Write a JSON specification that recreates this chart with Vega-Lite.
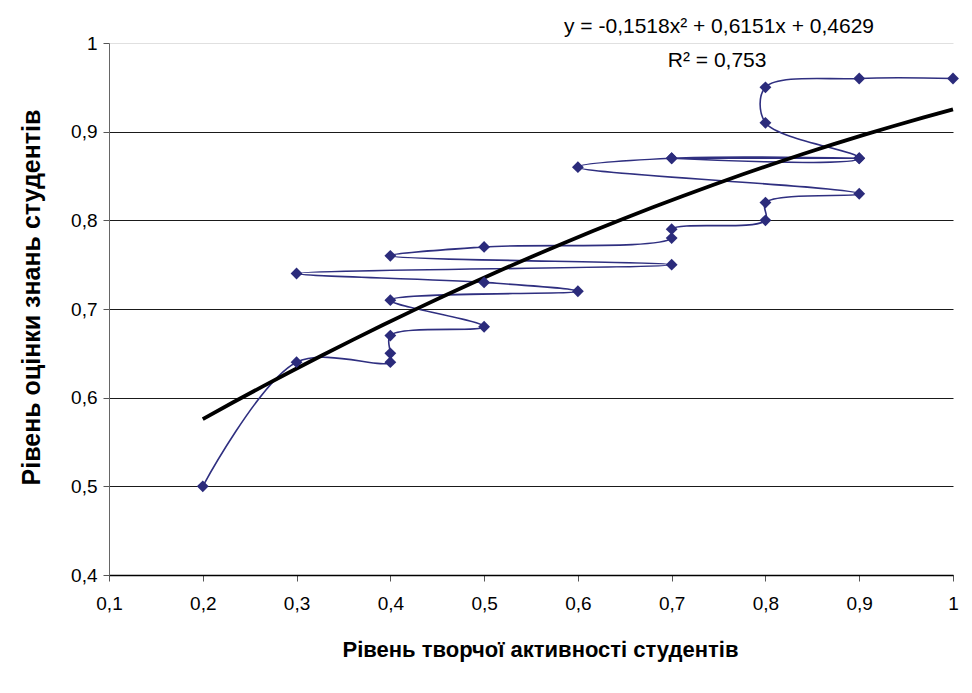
{
  "$schema": "https://vega.github.io/schema/vega-lite/v6.json",
  "width": 844,
  "height": 532,
  "autosize": "none",
  "padding": {"left": 109, "top": 43, "right": 19, "bottom": 118},
  "background": "white",
  "config": {
    "view": {"stroke": null},
    "font": "Liberation Sans",
    "axis": {"labelFont": "Liberation Sans", "titleFont": "Liberation Sans", "labelColor": "black", "titleColor": "black"}
  },
  "datasets": {
    "pts": [
      {"i": 1, "x": 0.2, "y": 0.50},
      {"i": 2, "x": 0.3, "y": 0.64},
      {"i": 3, "x": 0.4, "y": 0.64},
      {"i": 4, "x": 0.4, "y": 0.65},
      {"i": 5, "x": 0.4, "y": 0.67},
      {"i": 6, "x": 0.5, "y": 0.68},
      {"i": 7, "x": 0.4, "y": 0.71},
      {"i": 8, "x": 0.6, "y": 0.72},
      {"i": 9, "x": 0.5, "y": 0.73},
      {"i": 10, "x": 0.3, "y": 0.74},
      {"i": 11, "x": 0.7, "y": 0.75},
      {"i": 12, "x": 0.4, "y": 0.76},
      {"i": 13, "x": 0.5, "y": 0.77},
      {"i": 14, "x": 0.7, "y": 0.78},
      {"i": 15, "x": 0.7, "y": 0.79},
      {"i": 16, "x": 0.8, "y": 0.80},
      {"i": 17, "x": 0.8, "y": 0.82},
      {"i": 18, "x": 0.9, "y": 0.83},
      {"i": 19, "x": 0.6, "y": 0.86},
      {"i": 20, "x": 0.7, "y": 0.87},
      {"i": 21, "x": 0.9, "y": 0.87},
      {"i": 22, "x": 0.7, "y": 0.87},
      {"i": 23, "x": 0.9, "y": 0.87},
      {"i": 24, "x": 0.8, "y": 0.91},
      {"i": 25, "x": 0.8, "y": 0.95},
      {"i": 26, "x": 0.9, "y": 0.96},
      {"i": 27, "x": 1.0, "y": 0.96}
    ],
    "notes": [
      {"x": 0.7505, "y": 1.0185, "label": "y = -0,1518x² + 0,6151x + 0,4629"},
      {"x": 0.7485, "y": 0.9795, "label": "R² = 0,753"}
    ]
  },
  "encoding": {
    "x": {
      "field": "x", "type": "quantitative",
      "scale": {"domain": [0.1, 1], "nice": false, "zero": false},
      "axis": {
        "values": [0.1, 0.2, 0.3, 0.4, 0.5, 0.6, 0.7, 0.8, 0.9, 1],
        "format": ".1~f",
        "labelExpr": "replace(datum.label, '.', ',')",
        "grid": false,
        "domainColor": "#000000",
        "domainWidth": 1.5,
        "tickColor": "#555555",
        "tickSize": 6,
        "labelFontSize": 19,
        "labelPadding": 13,
        "labelFlush": false,
        "title": "Рівень творчої активності студентів",
        "titleFontSize": 22,
        "titleFontWeight": "bold",
        "titlePadding": 26,
        "titleX": 431
      }
    },
    "y": {
      "field": "y", "type": "quantitative",
      "scale": {"domain": [0.4, 1], "nice": false, "zero": false},
      "axis": {
        "values": [0.4, 0.5, 0.6, 0.7, 0.8, 0.9, 1],
        "format": ".1~f",
        "labelExpr": "replace(datum.label, '.', ',')",
        "grid": true,
        "gridColor": {"condition": {"test": "datum.value >= 1", "value": "#e0e0e0"}, "value": "#1a1a1a"},
        "gridWidth": 1,
        "domainColor": "#666666",
        "tickColor": "#555555",
        "tickSize": 6,
        "labelFontSize": 19,
        "labelPadding": 6,
        "labelFlush": false,
        "title": "Рівень оцінки знань студентів",
        "titleFontSize": 25,
        "titleFontWeight": "bold",
        "titlePadding": 26,
        "titleY": 254
      }
    }
  },
  "layer": [
    {
      "data": {"name": "pts"},
      "mark": {"type": "line", "interpolate": "catmull-rom", "color": "#2f2f80", "strokeWidth": 1.6},
      "encoding": {"order": {"field": "i", "type": "quantitative"}}
    },
    {
      "data": {"name": "pts"},
      "transform": [{"regression": "y", "on": "x", "method": "poly", "order": 2}],
      "mark": {"type": "line", "color": "#000000", "strokeWidth": 3.8},
      "encoding": {}
    },
    {
      "data": {"name": "pts"},
      "mark": {"type": "point", "shape": "diamond", "filled": true, "color": "#2b2b7b", "size": 140, "opacity": 1},
      "encoding": {}
    },
    {
      "data": {"name": "notes"},
      "mark": {"type": "text", "fontSize": 21, "font": "Liberation Sans", "color": "black", "align": "center", "baseline": "middle"},
      "encoding": {"text": {"field": "label"}}
    }
  ]
}
